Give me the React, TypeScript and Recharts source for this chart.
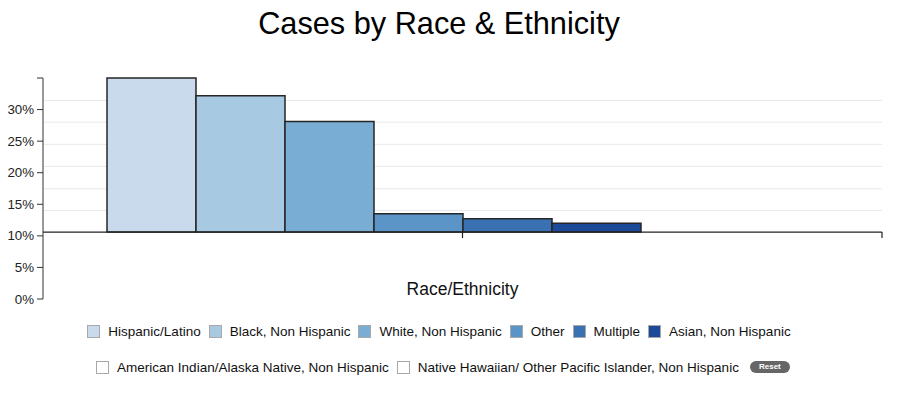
import { BarChart, Bar, XAxis, YAxis, CartesianGrid, ReferenceLine, Legend } from "recharts";

const categoryLabel = "Race/Ethnicity";
const seriesNames = [
  "Hispanic/Latino",
  "Black, Non Hispanic",
  "White, Non Hispanic",
  "Other",
  "Multiple",
  "Asian, Non Hispanic",
  "American Indian/Alaska Native, Non Hispanic",
  "Native Hawaiian/ Other Pacific Islander, Non Hispanic",
];
// percent of cases; the last two series are switched off in the legend
const seriesValues: (number | null)[] = [35.0, 32.2, 28.1, 13.5, 12.7, 12.0, null, null];
const seriesColors = ["#c9daec", "#a7c9e1", "#7aadd3", "#5b95c7", "#3a71b3", "#1c4a98", "#ffffff", "#ffffff"];
const baseValue = 10.6;
const yTicks = [0, 5, 10, 15, 20, 25, 30, 35];
const gridValues = [14.0, 17.45, 21.0, 24.5, 28.0, 31.45];

const row: Record<string, any> = { name: categoryLabel };
seriesValues.forEach((v, i) => {
  row["s" + i] = v == null ? undefined : [baseValue, v];
});
const data = [row];

const font = "'Liberation Sans', Arial, Helvetica, sans-serif";

// x axis drawn along the baseline, with ticks at the band centre and the right end
const BaseAxis = (props: any) => {
  const { x1, y1, x2, y2 } = props;
  const mid = (x1 + x2) / 2;
  return (
    <g stroke="#222" strokeWidth={1.2} fill="none">
      <line x1={x1} y1={y1} x2={x2} y2={y2} />
      <line x1={mid} y1={y1} x2={mid} y2={y1 + 6} />
      <line x1={x2} y1={y1} x2={x2} y2={y1 + 6} />
    </g>
  );
};

const CategoryTick = (props: any) => {
  const { x, y, payload } = props;
  return (
    <text x={x} y={y} dy={-12} textAnchor="middle" fontSize={17.5} fill="#111" fontFamily={font}>
      {payload.value}
    </text>
  );
};

const PercentTick = (props: any) => {
  const { x, y, payload } = props;
  if (payload.value === 35) return <g />;
  return (
    <text x={x} y={y} dy={4.5} textAnchor="end" fontSize={13.3} fill="#222" fontFamily={font}>
      {payload.value + "%"}
    </text>
  );
};

const LegendItem = ({ i }: { i: number }) => {
  const active = seriesValues[i] != null;
  return (
    <span style={{ display: "inline-flex", alignItems: "center", marginRight: 8 }}>
      <span
        style={{
          display: "inline-block",
          width: 11,
          height: 11,
          border: "1px solid #a8a8a8",
          background: active ? seriesColors[i] : "#fff",
          marginRight: 8,
        }}
      />
      <span>{seriesNames[i]}</span>
    </span>
  );
};

const renderLegend = () => (
  <div style={{ fontFamily: font, fontSize: 13.5, color: "#111" }}>
    <div style={{ display: "flex", justifyContent: "center", height: 18, alignItems: "center" }}>
      {[0, 1, 2, 3, 4, 5].map((i) => (
        <LegendItem key={i} i={i} />
      ))}
    </div>
    <div style={{ display: "flex", justifyContent: "center", height: 18, alignItems: "center", marginTop: 18 }}>
      {[6, 7].map((i) => (
        <LegendItem key={i} i={i} />
      ))}
      <span
        style={{
          display: "inline-block",
          width: 40,
          height: 12,
          lineHeight: "12px",
          borderRadius: 6,
          background: "#666",
          color: "#fff",
          fontSize: 8,
          fontWeight: "bold",
          textAlign: "center",
          marginLeft: 3,
        }}
      >
        Reset
      </span>
    </div>
  </div>
);

export default function App() {
  return (
    <div style={{ position: "absolute", left: 0, top: 0, width: 900, height: 393, background: "#fff" }}>
      <div
        style={{
          position: "absolute",
          left: 0,
          top: 6,
          width: 878,
          textAlign: "center",
          fontFamily: font,
          fontSize: 30.7,
          color: "#000",
        }}
      >
        Cases by Race &amp; Ethnicity
      </div>
      <BarChart
        width={900}
        height={393}
        data={data}
        margin={{ top: 78, right: 18, bottom: 64, left: 0 }}
        barGap={0}
        barSize={89}
        style={{ position: "absolute", left: 0, top: 0 }}
      >
        <CartesianGrid vertical={false} horizontalValues={gridValues} stroke="#e8e8e8" strokeWidth={1} />
        <XAxis
          dataKey="name"
          height={30}
          axisLine={false}
          tickLine={false}
          tick={<CategoryTick />}
        />
        <YAxis
          width={43}
          domain={[0, 35]}
          ticks={yTicks}
          interval={0}
          tickSize={6}
          tickMargin={3}
          tick={<PercentTick />}
          axisLine={{ stroke: "#333" }}
          tickLine={{ stroke: "#333" }}
        />
        {seriesNames.map((n, i) => (
          <Bar
            key={n}
            dataKey={"s" + i}
            name={n}
            fill={seriesColors[i]}
            stroke="#262626"
            strokeWidth={1.5}
            isAnimationActive={false}
          />
        ))}
        <ReferenceLine y={baseValue} shape={<BaseAxis />} />
        <Legend
          layout="horizontal"
          verticalAlign="middle"
          align="center"
          content={renderLegend}
          wrapperStyle={{ top: 322, left: 0, width: 886 }}
        />
      </BarChart>
    </div>
  );
}
